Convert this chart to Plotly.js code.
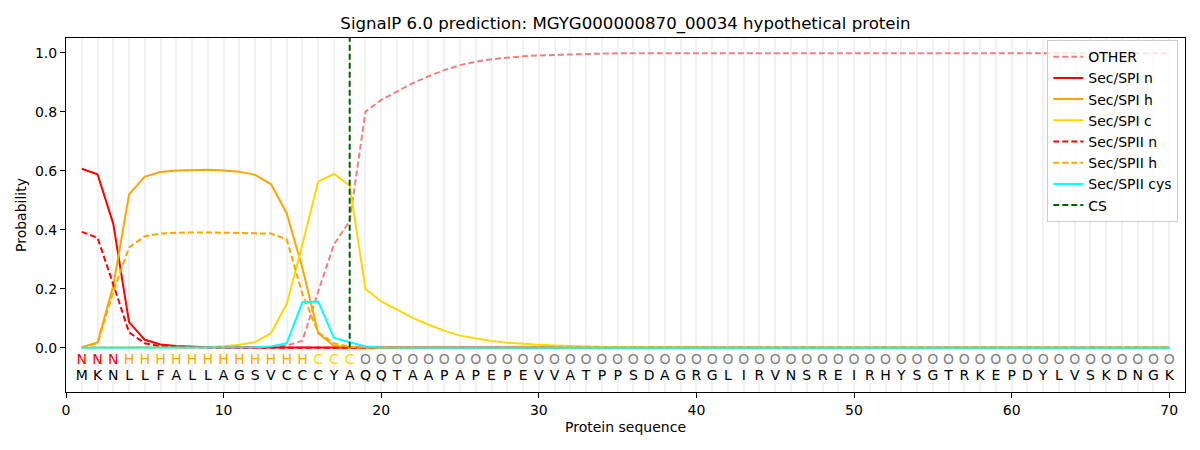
<!DOCTYPE html>
<html>
<head>
<meta charset="utf-8">
<script src="https://cdn.plot.ly/plotly-3.0.1.min.js"></script>
<style>
  html, body { margin: 0; padding: 0; background: #fff; }
  #chart { width: 1200px; height: 450px; }
</style>
</head>
<body>
<div id="chart"></div>
<script>
// residues and per-position region labels
const sequence = 'MKNLLFALLAGSVCCCYAQQTAAPAPEPEVVATPPSDAGRGLIRVNSREIRHYSGTRKEPDYLVSKDNGK'.split('');
const regionLabels = 'NNNHHHHHHHHHHHHCCCOOOOOOOOOOOOOOOOOOOOOOOOOOOOOOOOOOOOOOOOOOOOOOOOOOOO'.split('');
const positions = sequence.map((_, i) => i + 1);
const cleavageSite = 18;

const other = [
	0.001, 0.001, 0.001, 0.001, 0.001, 0.001, 0.001, 0.001, 0.001, 0.001,
	0.001, 0.001, 0.002, 0.007, 0.024, 0.19, 0.35, 0.43, 0.80, 0.84,
	0.869, 0.897, 0.92, 0.941, 0.958, 0.970, 0.978, 0.984, 0.988, 0.991,
	0.993, 0.995, 0.996, 0.997, 0.998, 0.998, 0.998, 0.999, 0.999, 0.999,
	0.999, 0.999, 0.999, 0.999, 0.999, 0.999, 0.999, 0.999, 0.999, 0.999,
	0.999, 0.999, 0.999, 0.999, 0.999, 0.998, 0.998, 0.998, 0.998, 0.998,
	0.997, 0.997, 0.997, 0.997, 0.997, 0.997, 0.997, 0.998, 0.998, 0.998
];
const spiN = [
	0.607, 0.588, 0.42, 0.087, 0.027, 0.011, 0.006, 0.003, 0.002, 0.001,
	0.001, 0.001, 0.001, 0.001, 0.001, 0.001, 0.001, 0.001, 0, 0,
	0, 0, 0, 0, 0, 0, 0, 0, 0, 0,
	0, 0, 0, 0, 0, 0, 0, 0, 0, 0,
	0, 0, 0, 0, 0, 0, 0, 0, 0, 0,
	0, 0, 0, 0, 0, 0, 0, 0, 0, 0,
	0, 0, 0, 0, 0, 0, 0, 0, 0, 0
];
const spiH = [
	0.002, 0.018, 0.21, 0.52, 0.58, 0.596, 0.601, 0.603, 0.603, 0.601,
	0.597, 0.586, 0.555, 0.456, 0.27, 0.049, 0.007, 0.001, 0, 0,
	0, 0, 0, 0, 0, 0, 0, 0, 0, 0,
	0, 0, 0, 0, 0, 0, 0, 0, 0, 0,
	0, 0, 0, 0, 0, 0, 0, 0, 0, 0,
	0, 0, 0, 0, 0, 0, 0, 0, 0, 0,
	0, 0, 0, 0, 0, 0, 0, 0, 0, 0
];
const spiC = [
	0, 0, 0, 0, 0, 0, 0, 0.001, 0.002, 0.005,
	0.01, 0.019, 0.049, 0.148, 0.35, 0.563, 0.589, 0.55, 0.199, 0.157,
	0.128, 0.101, 0.078, 0.058, 0.041, 0.031, 0.023, 0.017, 0.013, 0.010,
	0.008, 0.006, 0.004, 0.003, 0.002, 0.002, 0.001, 0.001, 0.001, 0.001,
	0, 0, 0, 0, 0, 0, 0, 0, 0, 0,
	0, 0, 0, 0, 0, 0, 0, 0, 0, 0,
	0, 0, 0, 0, 0, 0, 0, 0, 0, 0
];
const spiiN = [
	0.393, 0.373, 0.215, 0.052, 0.015, 0.005, 0.002, 0.001, 0, 0,
	0, 0, 0, 0, 0, 0, 0, 0, 0, 0,
	0, 0, 0, 0, 0, 0, 0, 0, 0, 0,
	0, 0, 0, 0, 0, 0, 0, 0, 0, 0,
	0, 0, 0, 0, 0, 0, 0, 0, 0, 0,
	0, 0, 0, 0, 0, 0, 0, 0, 0, 0,
	0, 0, 0, 0, 0, 0, 0, 0, 0, 0
];
const spiiH = [
	0.001, 0.015, 0.19, 0.34, 0.378, 0.387, 0.39, 0.391, 0.391, 0.39,
	0.389, 0.388, 0.387, 0.368, 0.182, 0.052, 0.015, 0.003, 0.001, 0,
	0, 0, 0, 0, 0, 0, 0, 0, 0, 0,
	0, 0, 0, 0, 0, 0, 0, 0, 0, 0,
	0, 0, 0, 0, 0, 0, 0, 0, 0, 0,
	0, 0, 0, 0, 0, 0, 0, 0, 0, 0,
	0, 0, 0, 0, 0, 0, 0, 0, 0, 0
];
const spiiCys = [
	0, 0, 0, 0, 0, 0, 0, 0, 0.001, 0.001,
	0.001, 0.002, 0.004, 0.015, 0.154, 0.157, 0.033, 0.018, 0.004, 0.001,
	0, 0, 0, 0, 0, 0, 0, 0, 0, 0,
	0, 0, 0, 0, 0, 0, 0, 0, 0, 0,
	0, 0, 0, 0, 0, 0, 0, 0, 0, 0,
	0, 0, 0, 0, 0, 0, 0, 0, 0, 0,
	0, 0, 0, 0, 0, 0, 0, 0, 0, 0
];

const FONT = 'DejaVu Sans, sans-serif';
const yTop = 1.05;
const labelColors = { N: '#ff0000', H: '#ffa500', C: '#ffd700', O: '#808080' };
const dashed = '6px,3px';

function line(name, y, color, dash) {
	return {
		x: positions, y: y, name: name,
		type: 'scatter', mode: 'lines',
		line: { color: color, width: 2, dash: dash || 'solid' },
		hoverinfo: 'skip'
	};
}

const traces = [
	line('OTHER', other, '#f08080', dashed),
	line('Sec/SPI n', spiN, '#ff0000'),
	line('Sec/SPI h', spiH, '#ffa500'),
	line('Sec/SPI c', spiC, '#ffd700'),
	line('Sec/SPII n', spiiN, '#ff0000', dashed),
	line('Sec/SPII h', spiiH, '#ffa500', dashed),
	line('Sec/SPII cys', spiiCys, '#00ffff'),
	{
		x: [cleavageSite, cleavageSite], y: [0, yTop], name: 'CS',
		type: 'scatter', mode: 'lines',
		line: { color: '#006400', width: 2, dash: dashed },
		hoverinfo: 'skip'
	},
	// region label row and sequence row under the curves
	{
		x: positions, y: positions.map(() => -0.042),
		text: regionLabels, type: 'scatter', mode: 'text',
		textfont: { family: FONT, size: 14, color: regionLabels.map(l => labelColors[l]) },
		showlegend: false, hoverinfo: 'skip'
	},
	{
		x: positions, y: positions.map(() => -0.099),
		text: sequence, type: 'scatter', mode: 'text',
		textfont: { family: FONT, size: 14, color: '#000' },
		showlegend: false, hoverinfo: 'skip'
	}
];

const layout = {
	width: 1200, height: 450,
	margin: { l: 66, r: 15, t: 38, b: 58 },
	paper_bgcolor: '#fff', plot_bgcolor: '#fff',
	font: { family: FONT, size: 14, color: '#000' },
	title: {
		text: 'SignalP 6.0 prediction: MGYG000000870_00034 hypothetical protein',
		font: { family: FONT, size: 16.6, color: '#000' },
		x: 0.5, xref: 'paper', xanchor: 'center',
		y: 1 - 23 / 450, yref: 'container', yanchor: 'middle'
	},
	xaxis: {
		range: [0, 71],
		tickvals: [0, 10, 20, 30, 40, 50, 60, 70],
		ticks: 'outside', ticklen: 5, tickcolor: '#000',
		showline: true, mirror: true, linecolor: '#000', linewidth: 1,
		showgrid: true, gridcolor: '#f2f2f2', gridwidth: 2,
		minor: { dtick: 1, tick0: 0, showgrid: true, gridcolor: '#f2f2f2', gridwidth: 2, ticks: '' },
		zeroline: false,
		title: { text: 'Protein sequence', font: { family: FONT, size: 14, color: '#000' }, standoff: 5 }
	},
	yaxis: {
		range: [-0.15, yTop],
		tickvals: [0, 0.2, 0.4, 0.6, 0.8, 1.0],
		tickformat: '.1f',
		ticks: 'outside', ticklen: 5, tickcolor: '#000',
		showline: true, mirror: true, linecolor: '#000', linewidth: 1,
		showgrid: false, zeroline: false,
		title: { text: 'Probability', font: { family: FONT, size: 14, color: '#000' }, standoff: 5 }
	},
	legend: {
		x: 0.994, y: 0.994, xanchor: 'right', yanchor: 'top',
		bgcolor: 'rgba(255,255,255,0.8)', bordercolor: '#cccccc', borderwidth: 1,
		font: { family: FONT, size: 14, color: '#000' },
		itemwidth: 30
	},
	showlegend: true
};

Plotly.newPlot('chart', traces, layout, { staticPlot: true, displayModeBar: false });
</script>
</body>
</html>
